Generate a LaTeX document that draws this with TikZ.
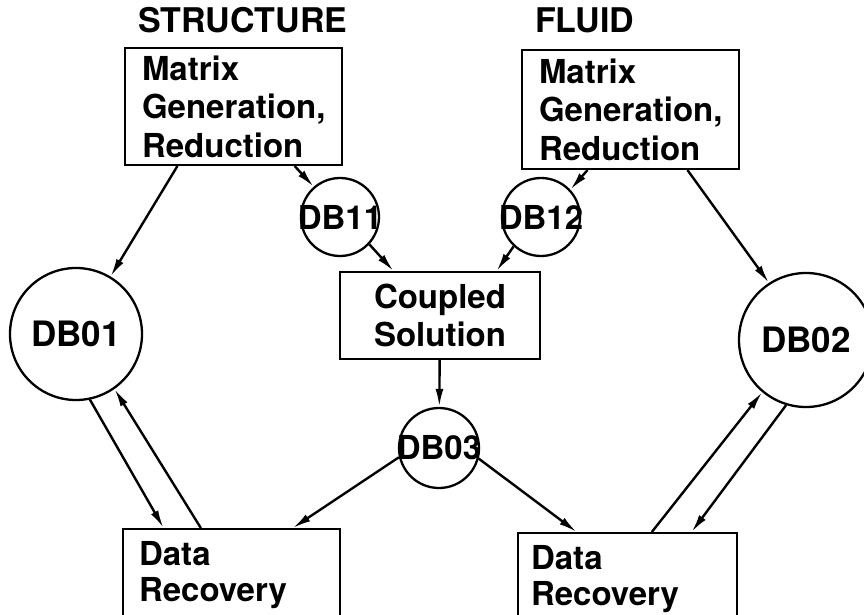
\documentclass[tikz,border=0pt]{standalone}
\usepackage{fontspec}
\setmainfont{TeX Gyre Heros}
\usepackage{tikz}
\usetikzlibrary{calc,arrows.meta}
\newcommand{\dbtext}[1]{\makebox[0pt]{#1}}
\tikzset{
  box/.style={draw, line width=2pt, inner xsep=17pt, inner ysep=0pt, align=left, font=\fontsize{33}{38.5}\selectfont\bfseries},
  db/.style={circle, draw, line width=2.3pt, inner sep=0pt, font=\fontsize{33}{33}\selectfont\bfseries},
  bigdb/.style={db, font=\fontsize{35}{35}\selectfont\bfseries},
  lab/.style={inner sep=0pt, font=\fontsize{34}{34}\selectfont\bfseries},
  flow/.style={line width=2.4pt, -{Latex[length=18pt,width=8pt]}},
}

\begin{document}
\begin{tikzpicture}[x=1pt,y=-1pt]
  \useasboundingbox (0,0) rectangle (864,615);
  \clip (0,0) rectangle (864,615);
  % headings
  \node[lab,anchor=base west] (slab) at (138,33) {STRUCTURE};
  \node[lab,anchor=base west] (flab) at (535,33) {FLUID};
  % boxes
  \node[box,anchor=north west,text width=183pt,minimum height=117pt] (sbox) at (124,47) {Matrix\\Generation,\\Reduction};
  \node[box,anchor=north west,text width=183pt,minimum height=119pt] (fbox) at (521,49) {Matrix\\Generation,\\Reduction};
  \node[box,anchor=north west,text width=166pt,minimum height=87pt,align=center] (cbox) at (339,271) {Coupled\\Solution};
  \node[box,anchor=north west,text width=185pt,inner xsep=16pt,minimum height=92pt,font=\fontsize{33}{36}\selectfont\bfseries] (ldr) at (122,528) {Data\\Recovery};
  \node[box,anchor=north west,text width=193pt,inner xsep=13pt,minimum height=92pt,font=\fontsize{33}{36}\selectfont\bfseries] (rdr) at (517,532) {Data\\Recovery};
  % data bases
  \node[bigdb,minimum size=132pt] (db01) at (76,334) {\dbtext{DB01}};
  \node[bigdb,minimum size=134pt] (db02) at (806,340) {\dbtext{DB02}};
  \node[db,minimum size=78pt] (db11) at (340,217) {\dbtext{DB11}};
  \node[db,minimum size=78pt] (db12) at (541,217) {\dbtext{DB12}};
  \node[db,minimum size=80pt] (db03) at (439,448) {\dbtext{DB03}};
  % flows
  \draw[flow] ($(sbox.south west)!0.244!(sbox.south east)$) -- (db01.59);
  \draw[flow] ($(sbox.south west)!0.779!(sbox.south east)$) -- (db11.131);
  \draw[flow] (db11.-43) -- ($(cbox.north west)!0.27!(cbox.north east)$);
  \draw[flow] ($(fbox.south west)!0.304!(fbox.south east)$) -- (db12.43);
  \draw[flow] (db12.-133) -- ($(cbox.north west)!0.78!(cbox.north east)$);
  \draw[flow] ($(fbox.south west)!0.76!(fbox.south east)$) -- (db02.123);
  \draw[flow] (cbox) -- (db03);
  \draw[flow] (db01.-78) -- ($(ldr.north west)!0.19!(ldr.north east)$);
  \draw[flow] ($(ldr.north west)!0.36!(ldr.north east)$) -- (db01.-55);
  \draw[flow] (db03.193) -- ($(ldr.north west)!0.78!(ldr.north east)$);
  \draw[flow] (db03.-15) -- ($(rdr.north west)!0.27!(rdr.north east)$);
  \draw[flow] ($(rdr.north west)!0.61!(rdr.north east)$) -- (db02.-130);
  \draw[flow] (db02.-107) -- ($(rdr.north west)!0.79!(rdr.north east)$);
\end{tikzpicture}
\end{document}
